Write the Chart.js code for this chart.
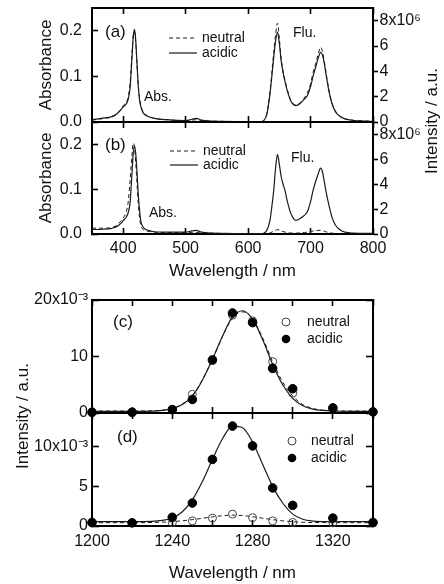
<!DOCTYPE html>
<html>
<head>
<meta charset="utf-8">
<script src="https://cdn.jsdelivr.net/npm/chart.js@4.4.1/dist/chart.umd.min.js"></script>
<style>
  html, body { margin: 0; padding: 0; background: #fff; }
  #wrap { position: relative; width: 444px; height: 584px; overflow: hidden; }
  #wrap canvas { position: absolute; left: 0; top: 0; }
</style>
</head>
<body>
<div id="wrap">
  <canvas id="panelA" width="444" height="584"></canvas>
  <canvas id="panelB" width="444" height="584"></canvas>
  <canvas id="panelC" width="444" height="584"></canvas>
  <canvas id="panelD" width="444" height="584"></canvas>
</div>
<script>
// absorption spectra (a), (b)
const absNm = [350, 360, 370, 380, 385, 390, 395, 400, 405, 408, 411, 414, 416, 418, 420, 422, 424, 426, 428, 432, 440, 450, 470, 500, 510, 517, 525, 540, 600, 620];
const absA_acidic = [.005, .007, .009, .011, .014, .018, .025, .033, .040, .050, .075, .140, .185, .203, .180, .130, .080, .050, .035, .020, .012, .008, .005, .003, .006, .008, .004, .002, .001, .001];
const absA_neutral = [.004, .006, .008, .010, .013, .017, .026, .036, .044, .055, .085, .150, .190, .198, .175, .128, .082, .055, .038, .022, .013, .008, .005, .003, .004, .005, .003, .002, .001, .001];
const absB_acidic = [.010, .010, .011, .012, .014, .017, .022, .030, .038, .048, .070, .135, .180, .197, .180, .140, .090, .055, .030, .015, .008, .005, .004, .004, .007, .008, .004, .002, .001, .001];
const absB_neutral = [.013, .013, .013, .014, .016, .020, .027, .036, .050, .072, .120, .175, .203, .195, .160, .115, .068, .038, .020, .010, .006, .004, .003, .003, .003, .003, .003, .002, .001, .001];

// fluorescence spectra (x10^6)
const flNm = [600, 620, 625, 630, 635, 638, 641, 644, 647, 650, 653, 656, 659, 662, 665, 668, 672, 676, 680, 685, 690, 695, 700, 704, 708, 712, 716, 719, 722, 726, 730, 734, 740, 747, 755, 770, 785, 800];
const flA_acidic = [0, .02, .1, .6, 2.2, 3.6, 5.1, 6.4, 7.1, 6.2, 4.8, 3.9, 3.2, 2.6, 2.1, 1.7, 1.4, 1.3, 1.35, 1.55, 1.8, 2.1, 2.8, 3.6, 4.3, 5.0, 5.5, 5.3, 4.6, 3.4, 2.3, 1.5, .8, .45, .25, .12, .08, .05];
const flA_neutral = [0, .02, .12, .7, 2.4, 3.9, 5.5, 6.9, 7.8, 6.6, 5.0, 4.0, 3.3, 2.7, 2.2, 1.75, 1.45, 1.35, 1.4, 1.6, 1.9, 2.3, 3.0, 3.9, 4.6, 5.3, 5.9, 5.6, 4.8, 3.5, 2.4, 1.55, .85, .45, .25, .12, .08, .05];
const flB_acidic = [0, .02, .06, .3, 1.1, 2.2, 3.5, 5.3, 6.4, 5.6, 4.6, 4.0, 3.5, 2.8, 2.2, 1.7, 1.3, 1.1, 1.15, 1.3, 1.5, 1.8, 2.6, 3.5, 4.2, 4.8, 5.3, 5.0, 4.2, 3.1, 2.2, 1.4, .7, .35, .15, .07, .05, .05];
const flB_neutral = [0, 0, .01, .03, .08, .15, .22, .3, .35, .32, .25, .2, .15, .12, .1, .08, .07, .07, .08, .1, .12, .15, .2, .24, .27, .29, .3, .28, .22, .15, .1, .07, .04, .02, .01, 0, 0, 0];

// near-IR emission (x10^-3): measured points and fitted curves
const ptNm = [1200, 1220, 1240, 1250, 1260, 1270, 1280, 1290, 1300, 1320, 1340];
const ptC_acidic = [0.1, 0.1, 0.6, 2.4, 9.4, 17.7, 16.0, 7.9, 4.3, 0.9, 0.2];
const ptC_neutral = [0.2, 0.2, 0.6, 3.3, 9.3, 17.3, 16.3, 9.1, 3.5, 0.8, 0.2];
const ptD_acidic = [0.45, 0.4, 1.1, 2.9, 8.4, 12.6, 10.1, 4.8, 2.6, 1.0, 0.45];
const ptD_neutral = [0.4, 0.4, 0.42, 0.65, 1.0, 1.5, 1.05, 0.65, 0.45, 0.4, 0.4];
const fitNm = [1200, 1220, 1230, 1235, 1240, 1245, 1250, 1255, 1260, 1265, 1270, 1275, 1280, 1285, 1290, 1295, 1300, 1305, 1310, 1315, 1320, 1330, 1340];
const fitC_acidic = [0.3, 0.3, 0.33, 0.45, 0.75, 1.5, 3.0, 5.8, 9.5, 13.6, 17.0, 18.1, 16.6, 13.0, 8.6, 5.0, 2.6, 1.3, 0.7, 0.45, 0.35, 0.3, 0.3];
const fitC_neutral = [0.35, 0.35, 0.38, 0.5, 0.8, 1.6, 3.1, 5.9, 9.5, 13.5, 16.8, 17.9, 16.7, 13.3, 9.1, 5.5, 3.0, 1.5, 0.8, 0.5, 0.4, 0.35, 0.35];
const fitD_acidic = [0.55, 0.55, 0.58, 0.7, 1.0, 1.8, 3.3, 5.6, 8.4, 11.0, 12.6, 12.4, 10.6, 7.8, 5.0, 2.9, 1.5, 0.85, 0.62, 0.56, 0.55, 0.55, 0.55];
const fitD_neutral = [0.42, 0.42, 0.44, 0.48, 0.55, 0.66, 0.8, 0.97, 1.15, 1.3, 1.37, 1.32, 1.17, 0.98, 0.8, 0.65, 0.54, 0.47, 0.44, 0.43, 0.42, 0.42, 0.42];

// ticks
const visTicks = [400, 500, 600, 700, 800];
const visTickLabels = ['400', '500', '600', '700', '800'];
const absTicks = [0, 0.1, 0.2];
const absTickLabels = ['0.0', '0.1', '0.2'];
const flTicks = [0, 2, 4, 6, 8];
const flTickLabels = ['0', '2', '4', '6', '8x10⁶'];
const irTicks = [1200, 1220, 1240, 1260, 1280, 1300, 1320, 1340];
const irTickLabels = ['1200', '', '1240', '', '1280', '', '1320', ''];
const cTicks = [0, 10, 20];
const cTickLabels = ['0', '10', '20x10⁻³'];
const dTicks = [0, 5, 10];
const dTickLabels = ['0', '5', '10x10⁻³'];

const FONT = "'Liberation Sans', Arial, sans-serif";
Chart.defaults.font.family = FONT;
Chart.defaults.color = '#111';

function fixSize(size) {
    return function (scale) {
        if (scale.isHorizontal()) scale.height = size; else scale.width = size;
        scale.paddingTop = scale.paddingBottom = scale.paddingLeft = scale.paddingRight = 0;
    };
}

function makeAxis(o) {
    return {
        type: 'linear',
        position: o.position,
        min: o.min,
        max: o.max,
        afterBuildTicks: (scale) => { scale.ticks = o.ticks.map(v => ({ value: v })); },
        afterFit: fixSize(o.size),
        border: { display: true, color: '#000', width: 2 },
        grid: { drawOnChartArea: false, drawTicks: true, tickLength: o.tickLength, tickWidth: 1.6, tickColor: '#000' },
        ticks: {
            display: !!o.labels,
            callback: (v, i) => o.labels ? o.labels[i] : '',
            padding: o.padding || 0,
            font: { size: 16 },
            color: '#111',
            maxRotation: 0,
            autoSkip: false
        },
        title: o.title
            ? { display: true, text: o.title, font: { size: 17 }, color: '#111', padding: o.titlePadding }
            : { display: false }
    };
}

function curve(xs, ys, yAxisID, dashed) {
    return {
        data: xs.map((x, i) => ({ x: x, y: ys[i] })),
        yAxisID: yAxisID,
        borderColor: '#1a1a1a',
        borderWidth: dashed ? 1 : 1.2,
        borderDash: dashed ? [4, 3] : [],
        pointRadius: 0,
        cubicInterpolationMode: 'monotone',
        fill: false
    };
}

function dots(xs, ys, filled) {
    return {
        data: xs.map((x, i) => ({ x: x, y: ys[i] })),
        yAxisID: 'y',
        showLine: false,
        pointRadius: filled ? 4.3 : 4,
        pointBorderWidth: 1,
        pointBackgroundColor: filled ? '#000' : 'rgba(0,0,0,0)',
        pointBorderColor: filled ? '#000' : '#444',
        clip: false
    };
}

// texts, legend samples drawn on top of each panel
function decor(items) {
    return {
        id: 'decor',
        afterDraw(chart) {
            const ctx = chart.ctx;
            items.forEach(it => {
                ctx.save();
                if (it.text) {
                    ctx.font = (it.size || 14) + 'px ' + FONT;
                    ctx.fillStyle = '#111';
                    ctx.textAlign = it.align || 'left';
                    ctx.textBaseline = 'middle';
                    ctx.translate(it.x, it.y);
                    if (it.rot) ctx.rotate(it.rot * Math.PI / 180);
                    ctx.fillText(it.text, 0, 0);
                } else if (it.line) {
                    ctx.strokeStyle = '#1a1a1a';
                    ctx.lineWidth = 1.2;
                    ctx.setLineDash(it.dash || []);
                    ctx.beginPath();
                    ctx.moveTo(it.x, it.y);
                    ctx.lineTo(it.x + it.line, it.y);
                    ctx.stroke();
                } else if (it.dot) {
                    ctx.beginPath();
                    ctx.arc(it.x, it.y, it.dot === 'filled' ? 4.3 : 4, 0, Math.PI * 2);
                    if (it.dot === 'filled') { ctx.fillStyle = '#000'; ctx.fill(); }
                    else { ctx.strokeStyle = '#444'; ctx.lineWidth = 1; ctx.stroke(); }
                }
                ctx.restore();
            });
        }
    };
}

function baseOptions(padding, scales) {
    return {
        responsive: false,
        animation: false,
        events: [],
        layout: { padding: padding },
        plugins: { legend: { display: false }, tooltip: { enabled: false } },
        scales: scales
    };
}

// (a)
new Chart(document.getElementById('panelA'), {
    type: 'line',
    data: { datasets: [
        curve(absNm, absA_acidic, 'y', false),
        curve(absNm, absA_neutral, 'y', true),
        curve(flNm, flA_acidic, 'y2', false),
        curve(flNm, flA_neutral, 'y2', true)
    ] },
    options: baseOptions({ left: 0, right: 0, top: 8, bottom: 462 }, {
        x: makeAxis({ position: 'bottom', min: 350, max: 800, ticks: visTicks, size: 0, tickLength: -6 }),
        x2: makeAxis({ position: 'top', min: 350, max: 800, ticks: visTicks, size: 0, tickLength: -6 }),
        y: makeAxis({ position: 'left', min: 0, max: 0.25, ticks: absTicks, labels: absTickLabels, size: 92, tickLength: -6, padding: 16,
            title: 'Absorbance', titlePadding: { top: 36, bottom: 0 } }),
        y2: makeAxis({ position: 'right', min: 0, max: 9, ticks: flTicks, labels: flTickLabels, size: 71, tickLength: 5, padding: 1.5 })
    }),
    plugins: [decor([
        { text: '(a)', x: 105, y: 32, size: 17 },
        { text: 'Abs.', x: 144, y: 97, size: 14 },
        { text: 'Flu.', x: 293, y: 33, size: 14 },
        { line: 28, x: 169, y: 38, dash: [4, 3] },
        { text: 'neutral', x: 202, y: 38, size: 14 },
        { line: 28, x: 169, y: 53 },
        { text: 'acidic', x: 202, y: 53, size: 14 },
        { text: 'Intensity / a.u.', x: 432, y: 121, size: 17, rot: -90, align: 'center' }
    ])]
});

// (b)
new Chart(document.getElementById('panelB'), {
    type: 'line',
    data: { datasets: [
        curve(absNm, absB_acidic, 'y', false),
        curve(absNm, absB_neutral, 'y', true),
        curve(flNm, flB_acidic, 'y2', false),
        curve(flNm, flB_neutral, 'y2', true)
    ] },
    options: baseOptions({ left: 0, right: 0, top: 122, bottom: 300 }, {
        x: makeAxis({ position: 'bottom', min: 350, max: 800, ticks: visTicks, labels: visTickLabels, size: 50, tickLength: -6, padding: 10.7,
            title: 'Wavelength / nm', titlePadding: { top: 0, bottom: 2 } }),
        x2: makeAxis({ position: 'top', min: 350, max: 800, ticks: visTicks, size: 0, tickLength: -6 }),
        y: makeAxis({ position: 'left', min: 0, max: 0.25, ticks: absTicks, labels: absTickLabels, size: 92, tickLength: -6, padding: 16,
            title: 'Absorbance', titlePadding: { top: 36, bottom: 0 } }),
        y2: makeAxis({ position: 'right', min: 0, max: 9, ticks: flTicks, labels: flTickLabels, size: 71, tickLength: 5, padding: 1.5 })
    }),
    plugins: [decor([
        { text: '(b)', x: 105, y: 145, size: 17 },
        { text: 'Abs.', x: 149, y: 213, size: 14 },
        { text: 'Flu.', x: 291, y: 158, size: 14 },
        { line: 28, x: 170, y: 151, dash: [4, 3] },
        { text: 'neutral', x: 203, y: 151, size: 14 },
        { line: 28, x: 170, y: 165 },
        { text: 'acidic', x: 203, y: 165, size: 14 }
    ])]
});

// (c)
new Chart(document.getElementById('panelC'), {
    type: 'line',
    data: { datasets: [
        dots(ptNm, ptC_acidic, true),
        dots(ptNm, ptC_neutral, false),
        curve(fitNm, fitC_acidic, 'y', false),
        curve(fitNm, fitC_neutral, 'y', true)
    ] },
    options: baseOptions({ left: 0, right: 0, top: 300, bottom: 171 }, {
        x: makeAxis({ position: 'bottom', min: 1200, max: 1340, ticks: irTicks, size: 0, tickLength: -6 }),
        x2: makeAxis({ position: 'top', min: 1200, max: 1340, ticks: irTicks, size: 0, tickLength: -6 }),
        y: makeAxis({ position: 'left', min: 0, max: 20, ticks: cTicks, labels: cTickLabels, size: 92, tickLength: -7, padding: 11 }),
        y2: makeAxis({ position: 'right', min: 0, max: 20, ticks: cTicks, size: 71, tickLength: -7 })
    }),
    plugins: [decor([
        { text: '(c)', x: 113, y: 322, size: 17 },
        { dot: 'open', x: 286, y: 322 },
        { text: 'neutral', x: 307, y: 322, size: 14 },
        { dot: 'filled', x: 286, y: 339 },
        { text: 'acidic', x: 307, y: 339, size: 14 },
        { text: 'Intensity / a.u.', x: 23, y: 416, size: 17, rot: -90, align: 'center' }
    ])]
});

// (d)
new Chart(document.getElementById('panelD'), {
    type: 'line',
    data: { datasets: [
        dots(ptNm, ptD_acidic, true),
        dots(ptNm, ptD_neutral, false),
        curve(fitNm, fitD_acidic, 'y', false),
        curve(fitNm, fitD_neutral, 'y', true)
    ] },
    options: baseOptions({ left: 0, right: 0, top: 413, bottom: 0 }, {
        x: makeAxis({ position: 'bottom', min: 1200, max: 1340, ticks: irTicks, labels: irTickLabels, size: 58, tickLength: -6, padding: 12,
            title: 'Wavelength / nm', titlePadding: { top: 0, bottom: 0 } }),
        x2: makeAxis({ position: 'top', min: 1200, max: 1340, ticks: irTicks, size: 0, tickLength: -6 }),
        y: makeAxis({ position: 'left', min: 0, max: 14.25, ticks: dTicks, labels: dTickLabels, size: 92, tickLength: -7, padding: 11 }),
        y2: makeAxis({ position: 'right', min: 0, max: 14.25, ticks: dTicks, size: 71, tickLength: -7 })
    }),
    plugins: [decor([
        { text: '(d)', x: 117, y: 437, size: 17 },
        { dot: 'open', x: 292, y: 441 },
        { text: 'neutral', x: 311, y: 441, size: 14 },
        { dot: 'filled', x: 292, y: 458 },
        { text: 'acidic', x: 311, y: 458, size: 14 }
    ])]
});
</script>
</body>
</html>
